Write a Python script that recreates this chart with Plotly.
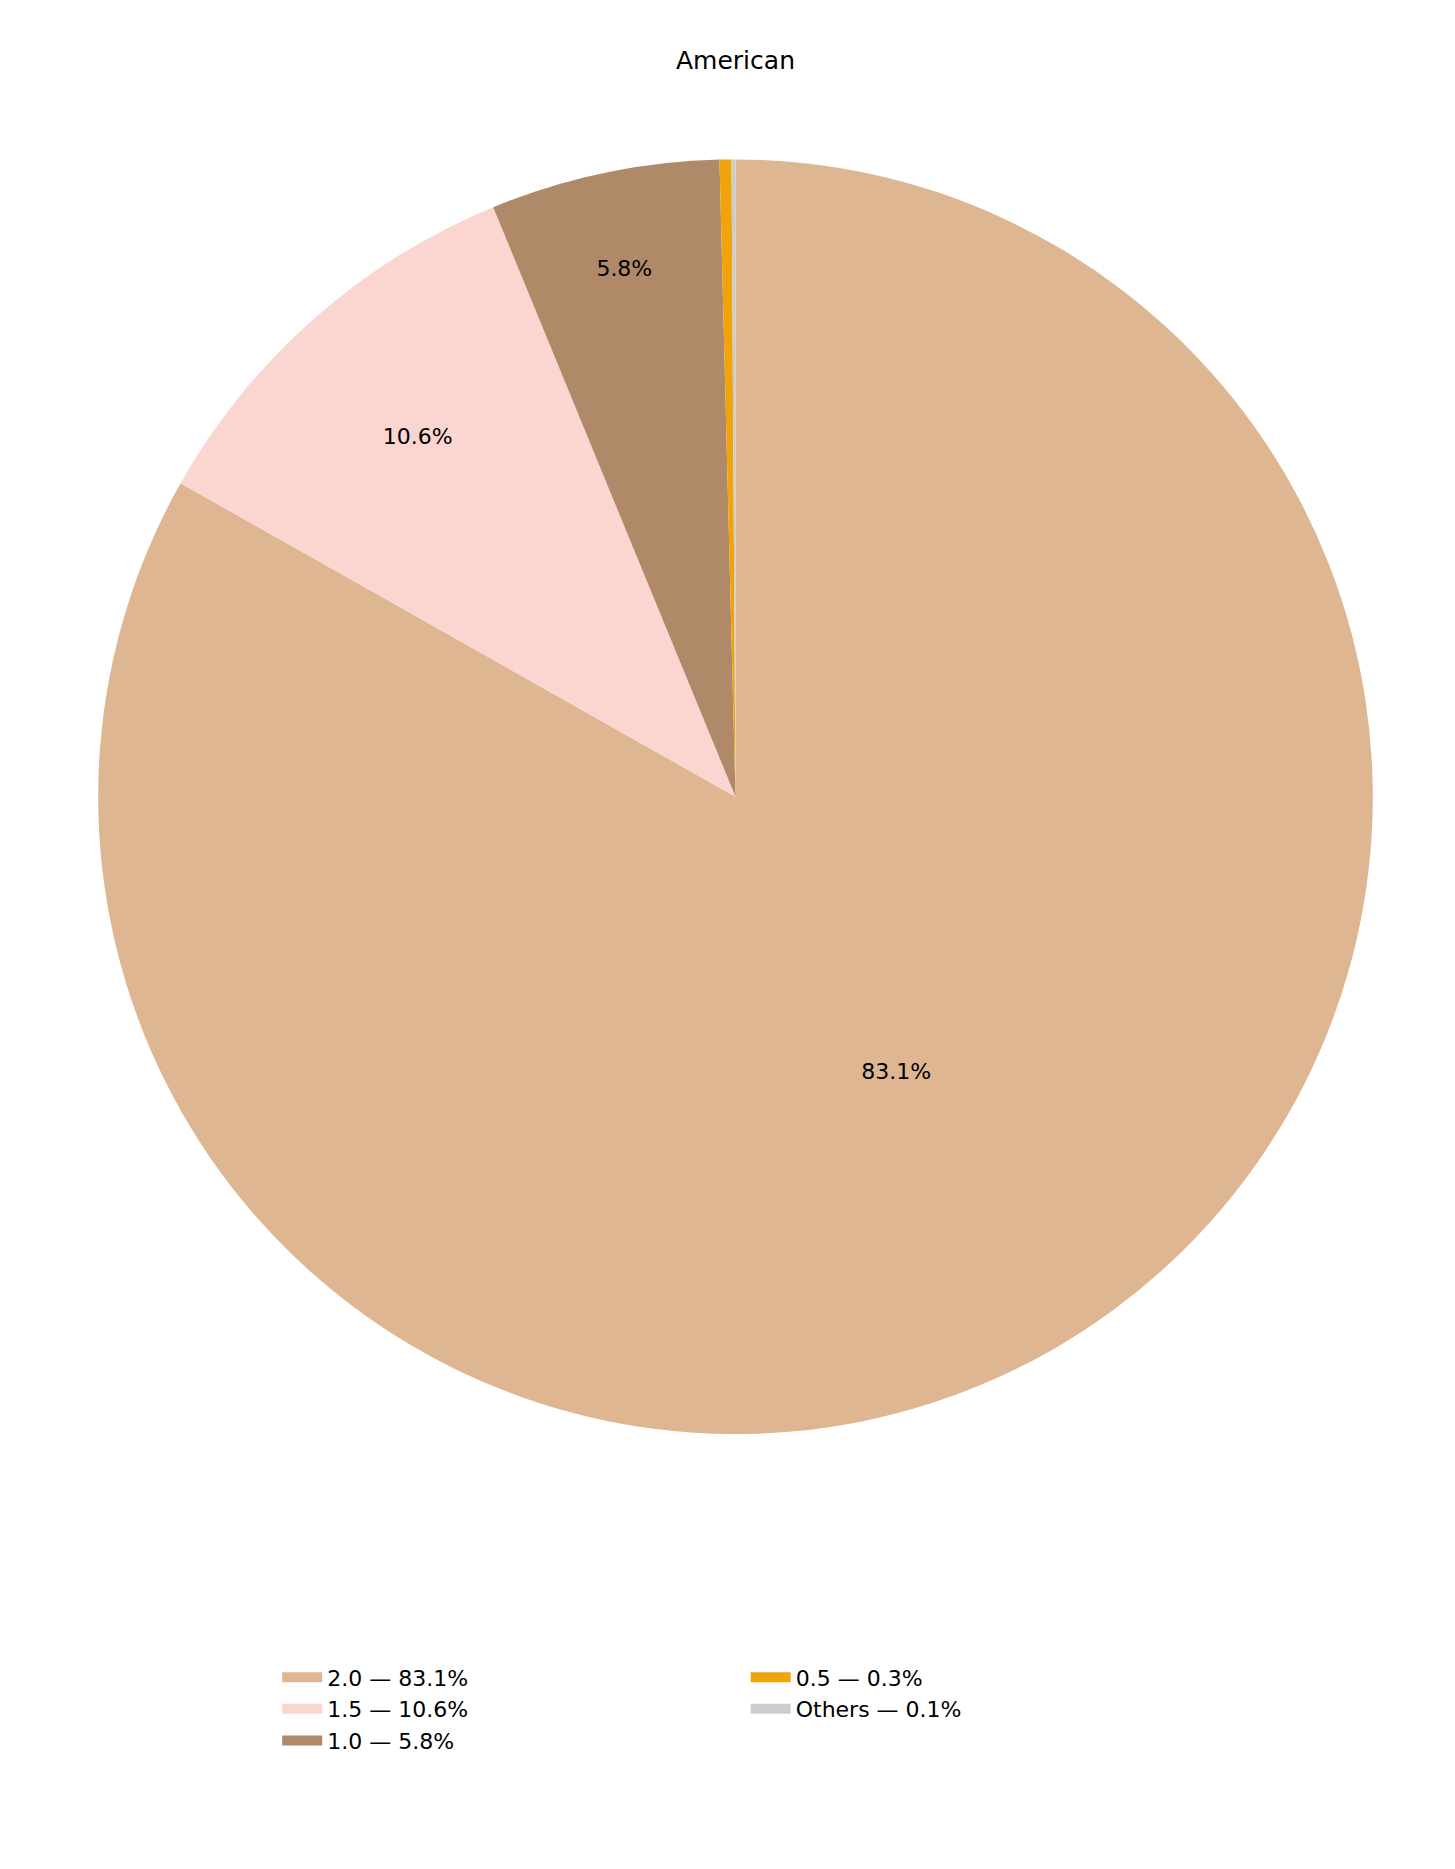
import plotly.graph_objects as go

labels = ["2.0", "1.5", "1.0", "0.5", "Others"]
values = [83.1, 10.6, 5.8, 0.3, 0.1]
pct_text = ["83.1%", "10.6%", "5.8%", "", ""]
legend_text = ["2.0 — 83.1%", "1.5 — 10.6%", "1.0 — 5.8%", "0.5 — 0.3%", "Others — 0.1%"]
colors = ["#DEB792", "#FBD5CF", "#B08968", "#F0A30A", "#CCCCCC"]

fig = go.Figure()
fig.add_trace(go.Pie(
    labels=labels, values=values, text=pct_text, textinfo="text",
    sort=False, direction="clockwise", rotation=0,
    marker=dict(colors=colors), showlegend=False,
    textposition="inside", insidetextorientation="horizontal",
    textfont=dict(size=22, color="black"),
    domain=dict(x=[0, 1], y=[0.237, 0.919]),
))
for i, (t, c) in enumerate(zip(legend_text, colors)):
    fig.add_trace(go.Scatter(
        x=[None], y=[None], mode="lines", name=t,
        line=dict(color=c, width=18),
        legend="legend" if i < 3 else "legend2",
    ))
fig.update_layout(
    width=1455, height=1869,
    paper_bgcolor="white", plot_bgcolor="white",
    margin=dict(l=0, r=0, t=0, b=0),
    font=dict(family="DejaVu Sans", color="black"),
    title=dict(text="American", x=0.5, xanchor="center", y=0.972, yanchor="middle",
               font=dict(size=25)),
    xaxis=dict(visible=False), yaxis=dict(visible=False),
    legend=dict(x=0.185, y=0.118, xanchor="left", yanchor="top",
                font=dict(size=22), itemwidth=40, tracegroupgap=0),
    legend2=dict(x=0.507, y=0.118, xanchor="left", yanchor="top",
                 font=dict(size=22), itemwidth=40, tracegroupgap=0),
)
fig.write_html("out.html")
